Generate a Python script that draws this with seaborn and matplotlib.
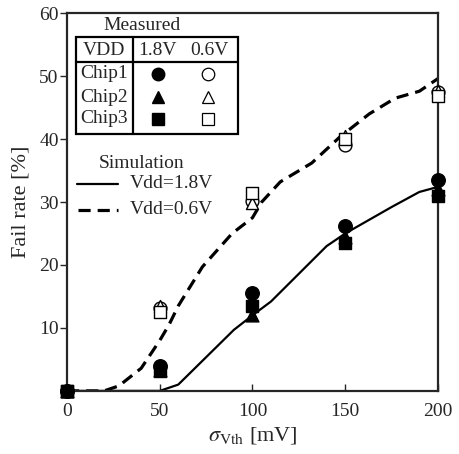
# Fail rate vs sigma Vth: measured chips and simulation
import numpy as np
import pandas as pd
import seaborn as sns
import matplotlib.pyplot as plt
from matplotlib.lines import Line2D

# ---- data ----
sigma_meas = [0, 50, 100, 150, 200]

chip1_18 = [0, 4.0, 15.6, 26.2, 33.5]
chip2_18 = [0, 3.3, 12.0, 24.5, 32.0]
chip3_18 = [0, 3.2, 13.5, 23.5, 31.0]

chip1_06 = [0, 13.2, 30.2, 39.0, 47.4]
chip2_06 = [0, 13.5, 29.8, 40.5, 47.6]
chip3_06 = [0, 12.6, 31.4, 40.0, 46.8]

sim18_x = [0, 50, 60, 90, 100, 110, 140, 150, 175, 190, 200]
sim18_y = [0, 0, 1.0, 9.7, 12.0, 14.2, 23.0, 25.0, 29.2, 31.6, 32.4]

sim06_x = [0, 20, 28, 40, 50, 55, 60, 73, 89, 100, 105, 115, 132, 147, 163, 177, 190, 200]
sim06_y = [0, 0, 0.8, 3.6, 8.0, 10.5, 13.5, 19.7, 25.0, 27.5, 30.0, 33.2, 36.2, 40.3, 44.0, 46.5, 47.6, 49.6]

x_ticks = [0, 50, 100, 150, 200]
y_ticks = [10, 20, 30, 40, 50, 60]

# ---- style ----
sns.set_style("ticks")
plt.rcParams["font.family"] = ["Liberation Serif", "DejaVu Serif"]
plt.rcParams["mathtext.fontset"] = "stix"

fig = plt.figure(figsize=(4.59, 4.54), dpi=100)
ax = fig.add_axes([0.146, 0.139, 0.808, 0.832])

# simulation curves
sns.lineplot(x=sim18_x, y=sim18_y, ax=ax, color="black", linewidth=1.6, sort=False)
sns.lineplot(x=sim06_x, y=sim06_y, ax=ax, color="black", linewidth=2.3, sort=False,
             linestyle=(0, (3.8, 2.2)))

# measured points (open ones first so filled sit on top at 0)
meas = [
    (chip1_06, "o", "white", 85),
    (chip2_06, "^", "white", 75),
    (chip3_06, "s", "white", 75),
    (chip1_18, "o", "black", 95),
    (chip2_18, "^", "black", 85),
    (chip3_18, "s", "black", 80),
]
for vals, mk, fc, sz in meas:
    sns.scatterplot(x=sigma_meas, y=vals, ax=ax, marker=mk, s=sz, color=fc,
                    edgecolor="black", linewidth=1.0, clip_on=False, zorder=5)

# ---- axes ----
ax.set_xlim(0, 200)
ax.set_ylim(0, 60)
ax.set_xticks(x_ticks)
ax.set_yticks(y_ticks)
ax.tick_params(axis="x", direction="in", length=5, width=1, labelsize=14, pad=9)
ax.tick_params(axis="y", direction="out", length=5, width=1, labelsize=14, pad=1)
for sp in ax.spines.values():
    sp.set_visible(True)
    sp.set_linewidth(1.6)
ax.set_xlabel(r"$\sigma_{\mathrm{Vth}}$ [mV]", fontsize=16, labelpad=3)
ax.set_ylabel("Fail rate [%]", fontsize=16, labelpad=6)

# ---- hand-drawn legend table ----
T = ax.transAxes
fs = 14
ax.text(0.202, 0.968, "Measured", transform=T, ha="center", va="center", fontsize=fs)
box = plt.Rectangle((0.024, 0.680), 0.437, 0.257, transform=T, fill=False,
                    edgecolor="black", linewidth=1.6, zorder=6)
ax.add_patch(box)
ax.add_line(Line2D([0.024, 0.461], [0.870, 0.870], transform=T, color="black", lw=1.6))
ax.add_line(Line2D([0.178, 0.178], [0.680, 0.937], transform=T, color="black", lw=1.6))
ax.text(0.10, 0.900, "VDD", transform=T, ha="center", va="center", fontsize=fs)
ax.text(0.243, 0.900, "1.8V", transform=T, ha="center", va="center", fontsize=fs)
ax.text(0.383, 0.900, "0.6V", transform=T, ha="center", va="center", fontsize=fs)

rows_y = [0.839, 0.778, 0.720]
for i, (yy, mk) in enumerate(zip(rows_y, ["o", "^", "s"])):
    ax.text(0.10, yy, "Chip%d" % (i + 1), transform=T, ha="center", va="center", fontsize=fs)
    ax.plot([0.245], [yy], transform=T, marker=mk, ms=9, mfc="black", mec="black", ls="none")
    ax.plot([0.380], [yy], transform=T, marker=mk, ms=9, mfc="white", mec="black",
            mew=0.9, ls="none")

ax.text(0.202, 0.603, "Simulation", transform=T, ha="center", va="center", fontsize=fs)
ax.add_line(Line2D([0.027, 0.137], [0.548, 0.548], transform=T, color="black", lw=1.6))
ax.text(0.168, 0.548, "Vdd=1.8V", transform=T, ha="left", va="center", fontsize=fs)
ax.add_line(Line2D([0.030, 0.137], [0.479, 0.479], transform=T, color="black", lw=2.3,
                   linestyle=(0, (3.8, 2.2))))
ax.text(0.168, 0.479, "Vdd=0.6V", transform=T, ha="left", va="center", fontsize=fs)

fig.savefig("out.png", dpi=100)
